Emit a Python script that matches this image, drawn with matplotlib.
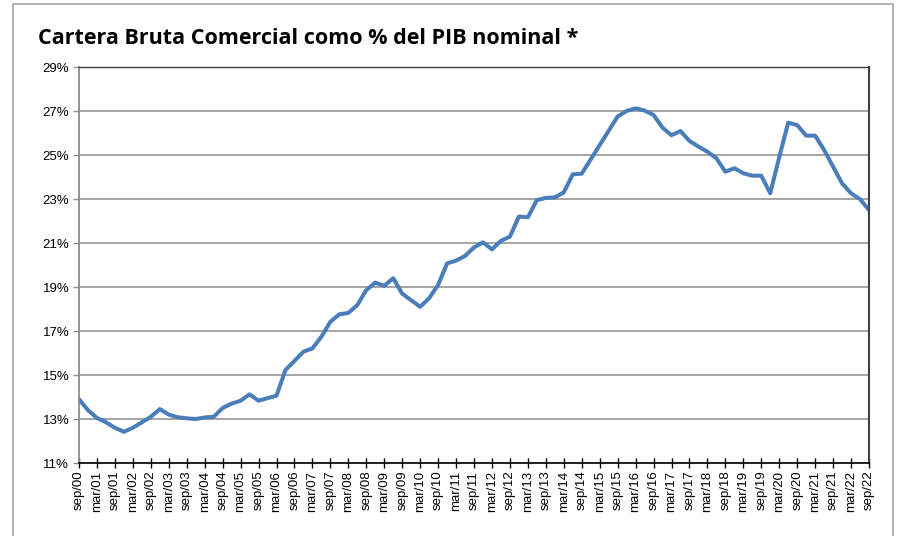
import numpy as np
import matplotlib.pyplot as plt
from matplotlib.patches import Rectangle

# quarterly series, sep/00 .. sep/22
years = list(range(0, 23))
cartera_pib = [
    13.90, 13.40, 13.05, 12.85, 12.60, 12.42, 12.60, 12.85, 13.10, 13.45,
    13.20, 13.08, 13.03, 13.00, 13.07, 13.10, 13.50, 13.70, 13.83, 14.12,
    13.83, 13.95, 14.06, 15.23, 15.64, 16.06, 16.21, 16.74, 17.42, 17.76,
    17.82, 18.18, 18.86, 19.20, 19.05, 19.40, 18.70, 18.40, 18.10, 18.49,
    19.09, 20.07, 20.20, 20.41, 20.80, 21.03, 20.71, 21.10, 21.29, 22.20,
    22.17, 22.95, 23.05, 23.07, 23.30, 24.12, 24.15, 24.80, 25.45, 26.10,
    26.75, 27.00, 27.12, 27.02, 26.82, 26.24, 25.90, 26.09, 25.64, 25.38,
    25.15, 24.85, 24.24, 24.40, 24.17, 24.06, 24.06, 23.26, 24.90, 26.47,
    26.36, 25.88, 25.88, 25.23, 24.47, 23.71, 23.26, 22.99, 22.50,
]

labels = []
for y in years:
    labels.append('sep/%02d' % y)
    if y < 22:
        labels.append('mar/%02d' % (y + 1))

x = np.arange(len(cartera_pib))

fig = plt.figure(figsize=(8.97, 5.36), dpi=100)
W, H = 897, 536
ax = fig.add_axes([79 / W, 1 - 463 / H, (869 - 79) / W, (463 - 67) / H])

# outer frame of the chart
fig.patches.append(Rectangle((13 / W, -0.01), (893 - 13) / W, 1 - 4 / H + 0.01,
                             transform=fig.transFigure, fill=False,
                             edgecolor='#a6a6a6', linewidth=1.2))

ax.plot(x, cartera_pib, color='#4a7ebb', linewidth=2.9, solid_joinstyle='round')

ax.set_xlim(0, len(cartera_pib) - 1)
ax.set_ylim(11, 29)
yt = np.arange(11, 30, 2)
ax.set_yticks(yt)
ax.set_yticklabels(['%d%%' % v for v in yt], fontsize=9.5, family='Liberation Sans')
ax.yaxis.grid(True, color='#8c8c8c', linewidth=1.1)
ax.set_axisbelow(True)

ax.set_xticks(x[::2])
ax.set_xticklabels(labels, rotation=90, fontsize=9.5, family='Liberation Sans')
ax.tick_params(axis='x', direction='inout', length=7, width=1, pad=2)
ax.tick_params(axis='y', direction='out', length=4, width=1, color='#8c8c8c', pad=3)

ax.spines['left'].set_color('#8c8c8c')
ax.spines['left'].set_linewidth(1.3)
ax.spines['bottom'].set_color('black')
ax.spines['bottom'].set_linewidth(1.2)
ax.spines['top'].set_color('#404040')
ax.spines['top'].set_linewidth(1.0)
ax.spines['right'].set_color('#404040')
ax.spines['right'].set_linewidth(1.5)

fig.text(38 / W, 1 - 38 / H, 'Cartera Bruta Comercial como % del PIB nominal *',
         fontsize=15.5, fontweight='bold', family='Open Sans', va='center', ha='left')

fig.savefig('out.png', dpi=100)
